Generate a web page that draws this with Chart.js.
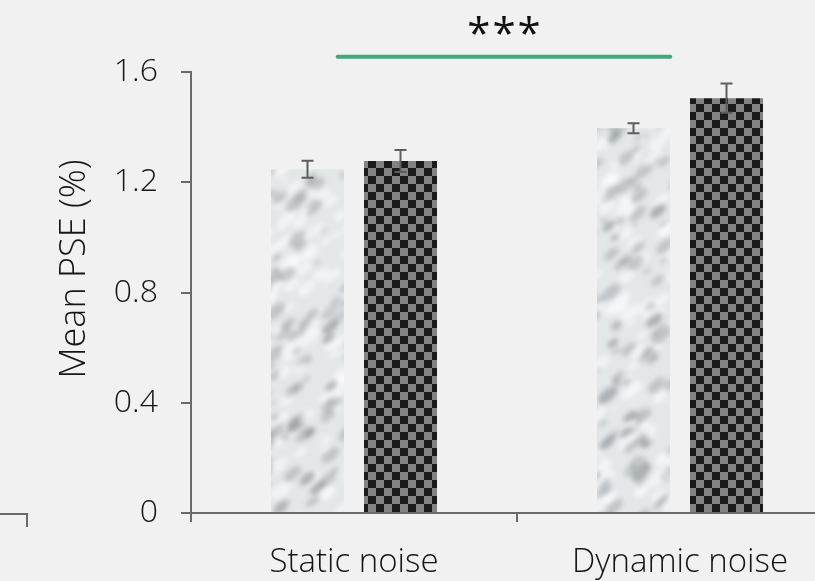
<!DOCTYPE html>
<html>
<head>
<meta charset="utf-8">
<script src="https://cdn.jsdelivr.net/npm/chart.js@4.4.1/dist/chart.umd.min.js"></script>
<style>
  html, body { margin: 0; padding: 0; background: #f1f1f1; overflow: hidden; }
  #wrap { width: 860px; height: 581px; }
</style>
</head>
<body>
<div id="wrap"><canvas id="chart" width="860" height="581"></canvas></div>
<script>
// Data
const categories = ['Static noise', 'Dynamic noise'];
const marbleVals = [1.247, 1.396];
const marbleErr = [0.031, 0.018];
const checkerVals = [1.277, 1.505];
const checkerErr = [0.040, 0.053];
const yTicks = [0, 0.4, 0.8, 1.2, 1.6];
// significance bracket: from / to in category units, height in data units
const sigFrom = -0.05, sigTo = 0.97, sigY = 1.655, sigLabel = '***';

const FONT = "'Open Sans', 'Noto Sans', sans-serif";
const AXIS = '#6a6a6a';
const TEXT = '#151515';

// checker fill
function makeChecker() {
  const c = document.createElement('canvas');
  c.width = 16; c.height = 16;
  const g = c.getContext('2d');
  g.fillStyle = '#838383'; g.fillRect(0, 0, 16, 16);
  g.fillStyle = '#1b1b1b'; g.fillRect(0, 0, 8, 8); g.fillRect(8, 8, 8, 8);
  return g.createPattern(c, 'repeat');
}

// whitish marble-like fill, mottled grey (fixed hash, only a texture)
function makeMarble() {
  const W = 860, H = 600;
  const raw = document.createElement('canvas');
  raw.width = W; raw.height = H;
  const g = raw.getContext('2d');
  g.fillStyle = '#e4e7e8'; g.fillRect(0, 0, W, H);
  const h = n => { const s = Math.sin(n * 127.1 + 311.7) * 43758.5453; return s - Math.floor(s); };
  for (let k = 0; k < 3000; k++) {
    const x = h(k) * W, y = h(k + 9000) * H;
    const r = 1.5 + h(k + 4000) * 4.5;
    const t = h(k + 7000);
    g.fillStyle = t < 0.42 ? 'rgba(150,155,160,0.45)' : t < 0.52 ? 'rgba(105,110,115,0.45)' : 'rgba(252,252,253,0.6)';
    g.beginPath();
    g.ellipse(x, y, r * 2, r, -0.7, 0, Math.PI * 2);
    g.fill();
  }
  const c = document.createElement('canvas');
  c.width = W; c.height = H;
  const g2 = c.getContext('2d');
  g2.fillStyle = '#e4e7e8'; g2.fillRect(0, 0, W, H);
  g2.filter = 'blur(2.5px)';
  g2.drawImage(raw, 0, 0);
  g2.filter = 'none';
  return g2.createPattern(c, 'repeat');
}

const errorBars = {
  id: 'errorBars',
  afterDatasetsDraw(chart) {
    const ctx = chart.ctx;
    const errs = [marbleErr, checkerErr];
    const y = chart.scales.y;
    ctx.save();
    ctx.strokeStyle = '#5e5e5e';
    ctx.lineWidth = 2;
    chart.data.datasets.forEach((ds, di) => {
      chart.getDatasetMeta(di).data.forEach((bar, i) => {
        const v = ds.data[i], e = errs[di][i];
        const yt = y.getPixelForValue(v + e), yb = y.getPixelForValue(v - e);
        ctx.beginPath();
        ctx.moveTo(bar.x, yt); ctx.lineTo(bar.x, yb);
        ctx.moveTo(bar.x - 6, yt); ctx.lineTo(bar.x + 6, yt);
        ctx.moveTo(bar.x - 6, yb); ctx.lineTo(bar.x + 6, yb);
        ctx.stroke();
      });
    });
    ctx.restore();
  }
};

const extras = {
  id: 'extras',
  afterDraw(chart) {
    const ctx = chart.ctx, x = chart.scales.x, y = chart.scales.y;
    const step = x.getPixelForValue(1) - x.getPixelForValue(0);
    const x1 = x.getPixelForValue(0) + sigFrom * step;
    const x2 = x.getPixelForValue(0) + sigTo * step;
    const ys = y.getPixelForValue(sigY);
    ctx.save();
    ctx.strokeStyle = '#3daa78';
    ctx.lineWidth = 4;
    ctx.lineCap = 'round';
    ctx.beginPath(); ctx.moveTo(x1, ys); ctx.lineTo(x2, ys); ctx.stroke();
    ctx.fillStyle = '#111';
    ctx.font = '42px ' + FONT;
    ctx.letterSpacing = '2px';
    ctx.textAlign = 'center';
    ctx.textBaseline = 'alphabetic';
    ctx.fillText(sigLabel, (x1 + x2) / 2 + 1, ys - 9);
    ctx.letterSpacing = '0px';
    // y axis title
    ctx.font = '300 36px ' + FONT;
    ctx.fillStyle = TEXT;
    ctx.translate(75, 269);
    ctx.rotate(-Math.PI / 2);
    ctx.textBaseline = 'middle';
    ctx.fillText('Mean PSE (%)', 0, 0);
    ctx.restore();
    // cropped axis piece of the neighbouring panel
    ctx.save();
    ctx.strokeStyle = AXIS; ctx.lineWidth = 2;
    ctx.beginPath(); ctx.moveTo(0, 514); ctx.lineTo(27, 514); ctx.lineTo(27, 527); ctx.stroke();
    ctx.restore();
  }
};

new Chart(document.getElementById('chart'), {
  type: 'bar',
  data: {
    labels: categories,
    datasets: [
      { label: 'marble', data: marbleVals, backgroundColor: makeMarble(), borderWidth: 0 },
      { label: 'checker', data: checkerVals, backgroundColor: makeChecker(), borderWidth: 0 }
    ]
  },
  options: {
    responsive: false,
    animation: false,
    devicePixelRatio: 1,
    layout: { padding: { left: 0, right: 17, top: 72, bottom: 0 } },
    barPercentage: 0.785,
    categoryPercentage: 0.5706,
    plugins: { legend: { display: false }, tooltip: { enabled: false } },
    scales: {
      x: {
        grid: { offset: true, drawOnChartArea: false, tickLength: 9, color: AXIS, lineWidth: 2 },
        border: { color: AXIS, width: 2 },
        ticks: { color: TEXT, font: { family: FONT, size: 33, weight: 300 }, padding: 21 },
        afterFit(s) { s.height = 68; }
      },
      y: {
        min: 0, max: 1.6,
        afterBuildTicks(s) { s.ticks = yTicks.map(v => ({ value: v })); },
        grid: { drawOnChartArea: false, tickLength: 10, color: AXIS, lineWidth: 2 },
        border: { color: AXIS, width: 2 },
        ticks: { color: TEXT, font: { family: FONT, size: 32, weight: 300 }, padding: 23,
          callback: v => v === 0 ? '0' : v.toFixed(1) },
        afterFit(s) { s.width = 191; }
      }
    }
  },
  plugins: [errorBars, extras]
});
</script>
</body>
</html>
